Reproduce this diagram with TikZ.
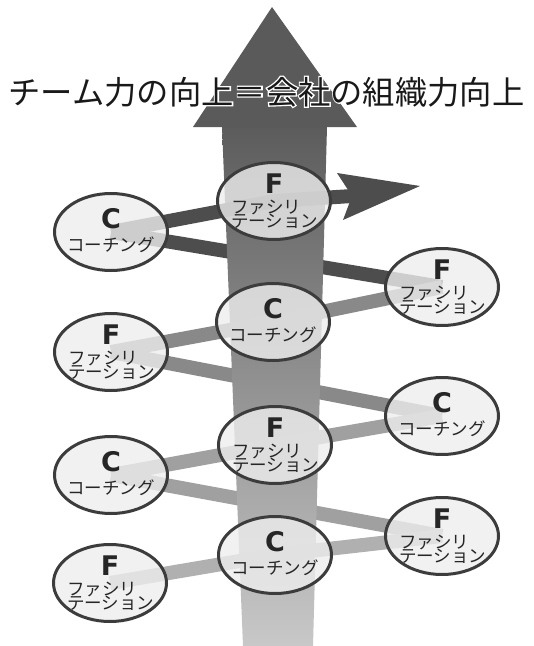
\documentclass[tikz,border=0pt]{standalone}
\usepackage{fontspec}
\newfontfamily\jp{Noto Sans CJK JP}
\newfontfamily\jphalo[FakeBold=8]{Noto Sans CJK JP}
\newfontfamily\lat{DejaVu Sans}
\usetikzlibrary{calc,shapes.geometric}
\definecolor{headcol}{HTML}{5A5A5A}
\definecolor{shafttop}{HTML}{5C5C5C}
\definecolor{shaftbot}{HTML}{C8C8C8}
\definecolor{bandA}{HTML}{4D4D4D}
\definecolor{bandB}{HTML}{898989}
\definecolor{bandC}{HTML}{A0A0A0}
\definecolor{bandD}{HTML}{B0B0B0}
\definecolor{ellline}{HTML}{3C3C3C}
\definecolor{ellfill}{HTML}{EEEEEE}
\tikzset{
  band/.style={line width=14pt, line cap=butt},
  ell/.style={ellipse, draw=ellline, line width=3pt, fill=ellfill, fill opacity=0.8,
    minimum width=113pt, minimum height=77pt, inner sep=0pt},
  glyph/.style={font=\lat\bfseries\fontsize{27}{27}\selectfont, text=black!85, inner sep=0pt},
  jpt/.style={font=\jp\fontsize{17.5}{17.5}\selectfont, text=black!85, inner sep=0pt},
  ttl/.style={font=\jp\fontsize{32.3}{32.3}\selectfont, inner sep=0pt, anchor=base},
}
\newcommand\fellipse[2]{%
  \node[ell] (#1) at (#2) {};
  \node[glyph, anchor=base] (#1g) at ($(#1)+(0,-7.5)$) {F};
  \node[jpt, anchor=base west] (#1a) at ($(#1)+(-43,12)$) {ファシリ};
  \node[jpt, anchor=base west] (#1b) at ($(#1)+(-43,26)$) {テーション};
}
\newcommand\cellipse[2]{%
  \node[ell] (#1) at (#2) {};
  \node[glyph, anchor=base] (#1g) at ($(#1)+(0,-4)$) {C};
  \node[jpt, anchor=base] (#1a) at ($(#1)+(0,19.5)$) {コーチング};
}
\begin{document}
\begin{tikzpicture}[x=1pt,y=-1pt]
\useasboundingbox (0,0) rectangle (534,646);
\fill[white] (0,0) rectangle (534,646);
% positions
\coordinate (pF1c) at (274,201);
\coordinate (pC1l) at (111,232);
\coordinate (pF1r) at (442,287);
\coordinate (pC2c) at (273,322);
\coordinate (pF2l) at (111,352);
\coordinate (pC2r) at (442,416);
\coordinate (pF3c) at (275,445);
\coordinate (pC3l) at (111,475);
\coordinate (pF3r) at (442,536);
\coordinate (pC4c) at (275,555);
\coordinate (pF4l) at (110,583);
\coordinate (notch) at (352,196);
% back bands (behind the big arrow)
\draw[band, bandA] (pF1r) -- (pC1l);
\draw[band, bandB] (pF2l) -- (pC2r);
\draw[band, bandC] (pC3l) -- (pF3r);
% big arrow
\shade[top color=shafttop, bottom color=shaftbot] (222,127) -- (327,127) -- (313,646) -- (243,646) -- cycle;
\fill[headcol] (272,7) -- (357,127) -- (193,127) -- cycle;
% title with white halo
\node[ttl, text=white, font=\jphalo\fontsize{32.3}{32.3}\selectfont] (halo) at (266.5,104) {チーム力の向上＝会社の組織力向上};
\node[ttl, text=black!90] (title) at (266.5,104) {チーム力の向上＝会社の組織力向上};
% front bands
\draw[band, bandA] (pC1l) -- (pF1c);
\draw[band, bandA] (pF1c) -- (notch);
\fill[bandA] (337,173) -- (420,186) -- (343,220) -- (notch) -- cycle;
\draw[band, bandB] (pC2c) -- (pF1r);
\draw[band, bandB] (pF2l) -- (pC2c);
\draw[band, bandC] (pF3c) -- (pC2r);
\draw[band, bandC] (pC3l) -- (pF3c);
\draw[band, bandD] (pC4c) -- (pF3r);
\draw[band, bandD] (pF4l) -- (pC4c);
% ellipses
\fellipse{F1c}{pF1c}
\cellipse{C1l}{pC1l}
\fellipse{F1r}{pF1r}
\cellipse{C2c}{pC2c}
\fellipse{F2l}{pF2l}
\cellipse{C2r}{pC2r}
\fellipse{F3c}{pF3c}
\cellipse{C3l}{pC3l}
\fellipse{F3r}{pF3r}
\cellipse{C4c}{pC4c}
\fellipse{F4l}{pF4l}
\end{tikzpicture}
\end{document}
